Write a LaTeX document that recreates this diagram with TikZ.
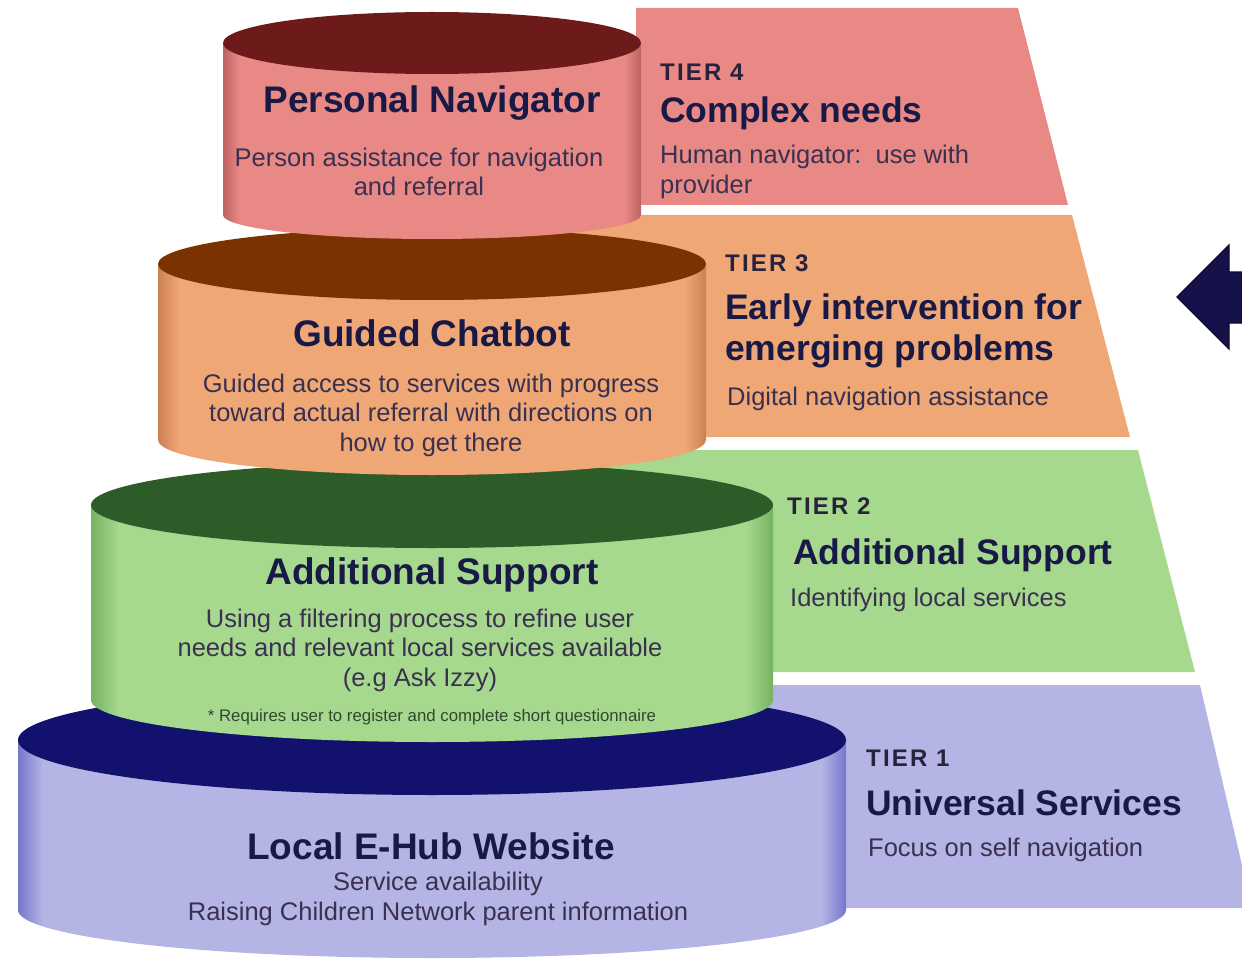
\documentclass[tikz,border=0pt]{standalone}
\usepackage{fontspec}
\setmainfont{Liberation Sans}
\newfontfamily\tierfont[LetterSpace=9]{Liberation Sans}
\usepackage{xcolor}
\definecolor{pinkside}{RGB}{232,137,134}
\definecolor{pinkedge}{RGB}{190,98,98}
\definecolor{pinktop}{RGB}{108,26,26}
\definecolor{orangeside}{RGB}{240,167,118}
\definecolor{orangeedge}{RGB}{205,128,84}
\definecolor{orangetop}{RGB}{122,50,0}
\definecolor{greenside}{RGB}{166,216,142}
\definecolor{greenedge}{RGB}{118,178,98}
\definecolor{greentop}{RGB}{46,92,40}
\definecolor{blueside}{RGB}{180,180,229}
\definecolor{blueedge}{RGB}{118,118,205}
\definecolor{bluetop}{RGB}{18,18,110}
\definecolor{titleink}{RGB}{25,25,70}
\definecolor{bodyink}{RGB}{58,48,80}
\definecolor{labelink}{RGB}{40,34,60}
\definecolor{noteink}{RGB}{48,72,48}
\definecolor{arrowink}{RGB}{21,17,74}
\pgfdeclarehorizontalshading{pinkshade}{100bp}{color(0bp)=(pinkedge); color(25bp)=(pinkedge); color(27bp)=(pinkside); color(73bp)=(pinkside); color(75bp)=(pinkedge); color(100bp)=(pinkedge)}
\pgfdeclarehorizontalshading{orangeshade}{100bp}{color(0bp)=(orangeedge); color(25bp)=(orangeedge); color(27bp)=(orangeside); color(73bp)=(orangeside); color(75bp)=(orangeedge); color(100bp)=(orangeedge)}
\pgfdeclarehorizontalshading{greenshade}{100bp}{color(0bp)=(greenedge); color(25bp)=(greenedge); color(27bp)=(greenside); color(73bp)=(greenside); color(75bp)=(greenedge); color(100bp)=(greenedge)}
\pgfdeclarehorizontalshading{blueshade}{100bp}{color(0bp)=(blueedge); color(25bp)=(blueedge); color(26.5bp)=(blueside); color(73.5bp)=(blueside); color(75bp)=(blueedge); color(100bp)=(blueedge)}

\begin{document}
\begin{tikzpicture}[
  x=1pt, y=-1pt,
  title/.style={font=\bfseries\fontsize{37}{41}\selectfont, text=titleink, inner sep=0pt},
  tiertitle/.style={font=\bfseries\fontsize{35.5}{41}\selectfont, text=titleink,
                    anchor=west, align=left, inner sep=0pt},
  body/.style={font=\fontsize{25.5}{29.5}\selectfont, text=bodyink, align=center, inner sep=0pt},
  tierbody/.style={body, align=left, anchor=west},
  tierlabel/.style={font=\tierfont\bfseries\fontsize{24}{28}\selectfont, text=labelink,
                    anchor=west, inner sep=0pt},
  note/.style={font=\fontsize{16.8}{20}\selectfont, text=noteink, inner sep=0pt}
]
\useasboundingbox (0,0) rectangle (1242,960);
\clip (0,0) rectangle (1242,960);
% tier bands behind the stack
\foreach \lx/\yt/\yb/\rt/\rb/\col in {636/8/205/1018/1068/pinkside,
    432/215/437/1072/1130/orangeside, 432/450/672/1138/1195/greenside,
    432/685/908/1200/1252/blueside}
  \fill[\col] (\lx,\yt) -- (\rt,\yt) -- (\rb,\yb) -- (\lx,\yb) -- cycle;
% cylinders, lowest first
\foreach \yt/\tr/\yb/\br/\rx/\sidesh/\lidcol in {740/55/910/48/414/blueshade/bluetop,
    505/43/700/42/341/greenshade/greentop, 264/36/440/35/274/orangeshade/orangetop,
    43/31/215/24/209/pinkshade/pinktop}
{
  \path[shading=\sidesh] ({432-\rx},\yt) -- ({432-\rx},\yb)
    arc[start angle=180, end angle=0, x radius=\rx, y radius=\br]
    -- ({432+\rx},\yt) -- cycle;
  \fill[\lidcol] (432,\yt) ellipse[x radius=\rx, y radius=\tr];
}
% cylinder texts
\node[title] (nav-title) at (432,103) {Personal Navigator};
\node[body] (nav-text) at (419,172) {Person assistance for navigation\\and referral};
\node[title] (chat-title) at (432,333) {Guided Chatbot};
\node[body] (chat-text) at (431,415) {Guided access to services with progress\\
  toward actual referral with directions on\\how to get there};
\node[title] (add-title) at (432,575) {Additional Support};
\node[body] (add-text) at (420,650) {Using a filtering process to refine user\\
  needs and relevant local services available\\(e.g Ask Izzy)};
\node[note] (add-note) at (432,717) {* Requires user to register and complete short questionnaire};
\node[title] (hub-title) at (431,846) {Local E-Hub Website};
\node[body] (hub-text) at (438,899) {Service availability\\Raising Children Network parent information};
% tier texts
\node[tierlabel] (tier4-label) at (660,72) {TIER 4};
\node[tiertitle] (tier4-title) at (660,113) {Complex needs};
\node[tierbody] (tier4-text) at (660,172) {Human navigator:\ \ use with\\provider};
\node[tierlabel] (tier3-label) at (725,263) {TIER 3};
\node[tiertitle] (tier3-title) at (725,331) {Early intervention for\\emerging problems};
\node[tierbody] (tier3-text) at (727,399) {Digital navigation assistance};
\node[tierlabel] (tier2-label) at (787,506) {TIER 2};
\node[tiertitle] (tier2-title) at (793,555) {Additional Support};
\node[tierbody] (tier2-text) at (790,600) {Identifying local services};
\node[tierlabel] (tier1-label) at (866,758) {TIER 1};
\node[tiertitle] (tier1-title) at (866,803) {Universal Services};
\node[tierbody] (tier1-text) at (868,850) {Focus on self navigation};
% arrow at the right edge
\filldraw[fill=arrowink, draw=arrowink!60!black, line width=1.2pt]
  (1177,297) -- (1229,245) -- (1229,272) -- (1262,272) -- (1262,323)
  -- (1229,323) -- (1229,349) -- cycle;
\end{tikzpicture}
\end{document}
